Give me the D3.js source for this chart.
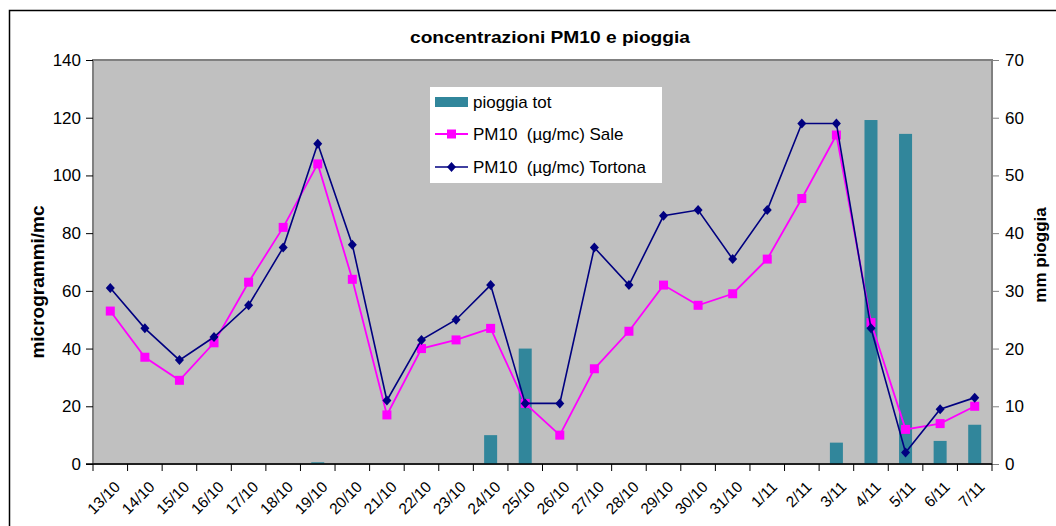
<!DOCTYPE html>
<html><head><meta charset="utf-8">
<script src="https://cdn.jsdelivr.net/npm/d3@7"></script>
<style>
html,body{margin:0;padding:0;background:#fff;}
svg{display:block;font-family:"Liberation Sans",Arial,sans-serif;}
</style></head>
<body>
<svg id="chart" width="1056" height="526"></svg>
<script>
const categories = ["13/10","14/10","15/10","16/10","17/10","18/10","19/10","20/10","21/10","22/10","23/10","24/10","25/10","26/10","27/10","28/10","29/10","30/10","31/10","1/11","2/11","3/11","4/11","5/11","6/11","7/11"];
const pioggiaTot = [0,0,0,0,0,0,0.3,0,0,0,0,5,20,0,0,0,0,0,0,0,0,3.7,59.6,57.2,4,6.8];
const pm10Sale = [53,37,29,42,63,82,104,64,17,40,43,47,21,10,33,46,62,55,59,71,92,114,49,12,14,20];
const pm10Tortona = [61,47,36,44,55,75,111,76,22,43,50,62,21,21,75,62,86,88,71,88,118,118,47,4,19,23];
const leftTicks = [0,20,40,60,80,100,120,140];
const rightTicks = [0,10,20,30,40,50,60,70];
const seriesNames = ["pioggia tot","PM10  (µg/mc) Sale","PM10  (µg/mc) Tortona"];
const titleText = "concentrazioni PM10 e pioggia";
const yLeftTitle = "microgrammi/mc";
const yRightTitle = "mm pioggia";

const svg = d3.select("#chart");
const L = 93, R = 992, T = 60, B = 464;

// outer border
svg.append("rect").attr("x",9.5).attr("y",10.5).attr("width",1100).attr("height",600)
  .attr("fill","#fff").attr("stroke","#000").attr("stroke-width",1.5);

const x = d3.scaleBand().domain(categories).range([L,R]).padding(0);
const yL = d3.scaleLinear().domain([0,140]).range([B,T]);
const yR = d3.scaleLinear().domain([0,70]).range([B,T]);

// plot area
svg.append("rect").attr("x",L).attr("y",T).attr("width",R-L).attr("height",B-T)
  .attr("fill","#C0C0C0").attr("stroke","#808080").attr("stroke-width",2);

// title
svg.append("text").attr("x",550).attr("y",43).attr("text-anchor","middle")
  .attr("font-size",17).attr("font-weight","bold").attr("textLength",280)
  .attr("lengthAdjust","spacingAndGlyphs").text(titleText);

// bars
const bw = 13;
svg.append("g").selectAll("rect").data(categories).join("rect")
  .attr("x",d=>x(d)+x.bandwidth()/2-bw/2)
  .attr("y",(d,i)=>yR(pioggiaTot[i]))
  .attr("width",bw)
  .attr("height",(d,i)=>B-yR(pioggiaTot[i]))
  .attr("fill","#31869B");

// left axis
const gl = svg.append("g").attr("transform",`translate(${L},0)`)
  .call(d3.axisLeft(yL).tickValues(leftTicks).tickSize(7).tickPadding(5).tickSizeOuter(0));
gl.select(".domain").remove();
gl.selectAll(".tick line").attr("stroke","#000");
gl.selectAll(".tick text").attr("font-size",17).attr("fill","#000").attr("font-family","Liberation Sans, Arial, sans-serif");

// right axis
const gr = svg.append("g").attr("transform",`translate(${R},0)`)
  .call(d3.axisRight(yR).tickValues(rightTicks).tickSize(7).tickPadding(6).tickSizeOuter(0));
gr.select(".domain").remove();
gr.selectAll(".tick line").attr("stroke","#808080");
gr.selectAll(".tick text").attr("font-size",17).attr("fill","#000").attr("font-family","Liberation Sans, Arial, sans-serif");

// x axis
const gx = svg.append("g").attr("transform",`translate(0,${B})`);
gx.append("line").attr("x1",L-7).attr("x2",R).attr("y1",0).attr("y2",0).attr("stroke","#000").attr("stroke-width",1.5);
const bounds = categories.map(c=>x(c)).concat([R]);
gx.selectAll("line.tk").data(bounds).join("line").attr("class","tk")
  .attr("x1",d=>d).attr("x2",d=>d).attr("y1",0).attr("y2",7).attr("stroke","#000");
gx.selectAll("text").data(categories).join("text")
  .attr("transform",d=>`translate(${x(d)+x.bandwidth()/2+7},${20}) rotate(-45)`)
  .attr("text-anchor","end").attr("dy","0.35em").attr("font-size",15.5).text(d=>d);

// lines
const line = arr => d3.line().x((d,i)=>x(categories[i])+x.bandwidth()/2).y(d=>yL(d))(arr);
svg.append("path").attr("d",line(pm10Sale)).attr("fill","none").attr("stroke","#FF00FF").attr("stroke-width",1.8);
svg.append("g").selectAll("rect").data(pm10Sale).join("rect")
  .attr("x",(d,i)=>x(categories[i])+x.bandwidth()/2-4.5).attr("y",d=>yL(d)-4.5)
  .attr("width",9).attr("height",9).attr("fill","#FF00FF");
svg.append("path").attr("d",line(pm10Tortona)).attr("fill","none").attr("stroke","#000080").attr("stroke-width",1.6);
const diamond = "M0,-5L4.5,0L0,5L-4.5,0Z";
svg.append("g").selectAll("path").data(pm10Tortona).join("path")
  .attr("transform",(d,i)=>`translate(${x(categories[i])+x.bandwidth()/2},${yL(d)})`)
  .attr("d",diamond).attr("fill","#000080");

// axis titles
svg.append("text").attr("transform","translate(44,282) rotate(-90)").attr("text-anchor","middle")
  .attr("font-size",19).attr("font-weight","bold").text(yLeftTitle);
svg.append("text").attr("transform","translate(1046,255) rotate(-90)").attr("text-anchor","middle")
  .attr("font-size",17).attr("font-weight","bold").text(yRightTitle);

// legend
const lg = svg.append("g");
lg.append("rect").attr("x",430).attr("y",87).attr("width",232).attr("height",96).attr("fill","#fff");
lg.append("rect").attr("x",435).attr("y",97).attr("width",33).attr("height",10).attr("fill","#31869B");
lg.append("line").attr("x1",435).attr("x2",468).attr("y1",134).attr("y2",134).attr("stroke","#FF00FF").attr("stroke-width",1.8);
lg.append("rect").attr("x",447).attr("y",129.5).attr("width",9).attr("height",9).attr("fill","#FF00FF");
lg.append("line").attr("x1",435).attr("x2",468).attr("y1",167).attr("y2",167).attr("stroke","#000080").attr("stroke-width",1.6);
lg.append("path").attr("transform","translate(451.5,167)").attr("d",diamond).attr("fill","#000080");
[102,134,167].forEach((yy,i)=>{
  lg.append("text").attr("x",473).attr("y",yy).attr("dy","0.35em").attr("font-size",17)
    .style("white-space","pre").text(seriesNames[i]);
});
</script>
</body></html>
